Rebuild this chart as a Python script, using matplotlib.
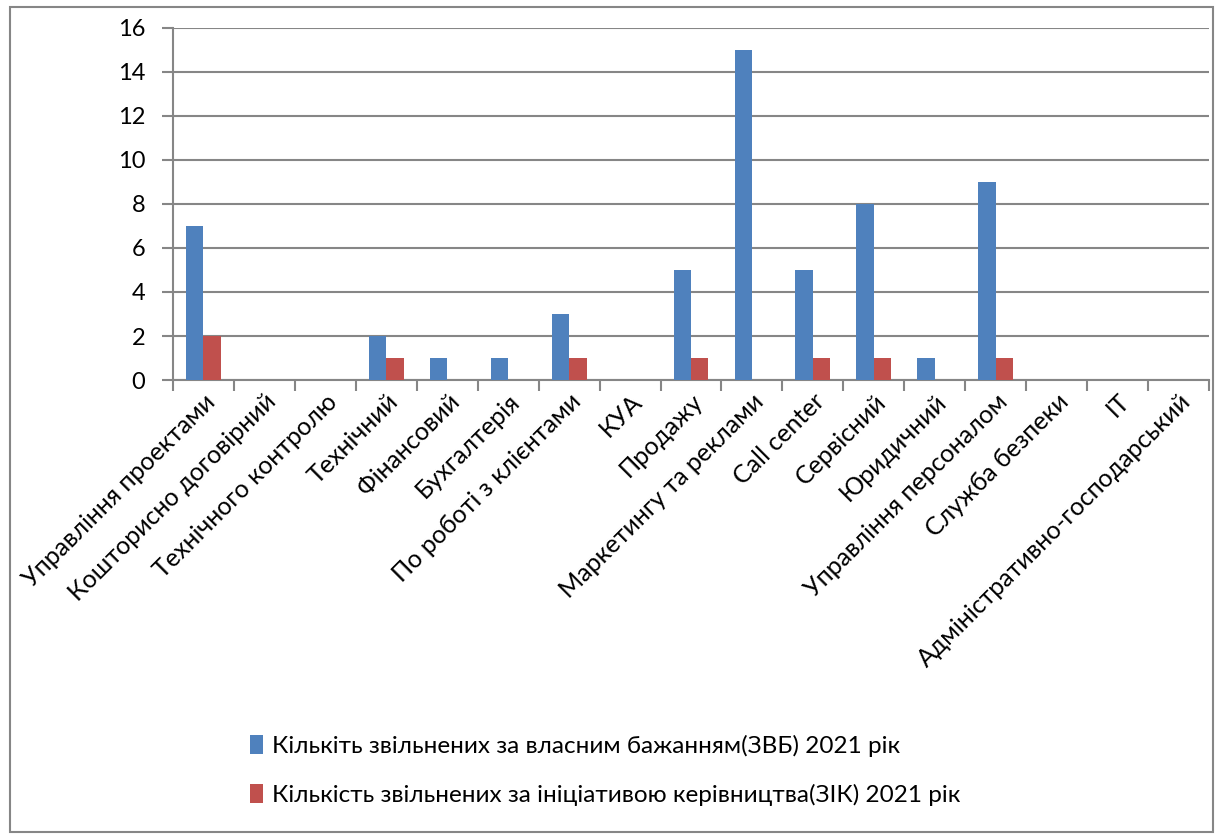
import matplotlib
matplotlib.use('Agg')
import matplotlib.pyplot as plt
import numpy as np
from matplotlib.patches import Rectangle

plt.rcParams['font.family'] = ['Lato', 'Open Sans', 'DejaVu Sans']

#================ data ====================
departments = ['Управління проектами', 'Кошторисно договірний', 'Технічного контролю',
               'Технічний', 'Фінансовий', 'Бухгалтерія', 'По роботі з клієнтами', 'КУА',
               'Продажу', 'Маркетингу та реклами', 'Call center', 'Сервісний', 'Юридичний',
               'Управління персоналом', 'Служба безпеки', 'ІТ', 'Адміністративно-господарський']
zvb = [7, 0, 0, 2, 1, 1, 3, 0, 5, 15, 5, 8, 1, 9, 0, 0, 0]
zik = [2, 0, 0, 1, 0, 0, 1, 0, 1, 0, 1, 1, 0, 1, 0, 0, 0]
series_names = ['Кількіть звільнених за власним бажанням(ЗВБ) 2021 рік',
                'Кількість звільнених за ініціативою керівництва(ЗІК) 2021 рік']
yticks = [0, 2, 4, 6, 8, 10, 12, 14, 16]
#==========================================

blue = '#4F81BD'
red = '#C0504D'
grey = '#868686'

fig = plt.figure(figsize=(12.15, 8.34), dpi=100)
ax = fig.add_axes([173/1215, 1-380/834, (1209-173)/1215, (380-28)/834])

x = np.arange(len(departments))
w = 1/3.5
ax.bar(x - w/2, zvb, w, color=blue, label=series_names[0], zorder=3)
ax.bar(x + w/2, zik, w, color=red, label=series_names[1], zorder=3)

ax.set_xlim(-0.5, len(departments) - 0.5)
ax.set_ylim(0, 16)
ax.set_yticks(yticks)
ax.yaxis.grid(True, color=grey, linewidth=1.5, zorder=0)

# ticks between categories, labels at centres
ax.set_xticks(np.arange(-0.5, len(departments)), minor=False)
ax.set_xticklabels([])
ax.set_xticks(x, minor=True)
ax.set_xticklabels(departments, minor=True, rotation=45, ha='right', va='top',
                   rotation_mode='anchor', fontsize=18)
ax.tick_params(axis='x', which='minor', length=0, pad=7)
ax.tick_params(axis='x', which='major', length=8, width=1.5, color=grey)
ax.tick_params(axis='y', length=8, width=1.5, color=grey, labelsize=17, pad=12)

for s in ['top', 'right']:
    ax.spines[s].set_visible(False)
for s in ['left', 'bottom']:
    ax.spines[s].set_color(grey)
    ax.spines[s].set_linewidth(1.5)

leg = fig.legend(loc='upper left', bbox_to_anchor=(228/1215, 1-713/834), frameon=False,
                 fontsize=17.5, handlelength=0.55, handleheight=0.85, handletextpad=0.35,
                 labelspacing=1.1)

# outer frame of the chart
fig.patches.append(Rectangle((10/1215, 2/834), 1203/1215, 825/834, transform=fig.transFigure,
                             fill=False, edgecolor=grey, linewidth=1.5))

plt.savefig('out.png', dpi=100)
